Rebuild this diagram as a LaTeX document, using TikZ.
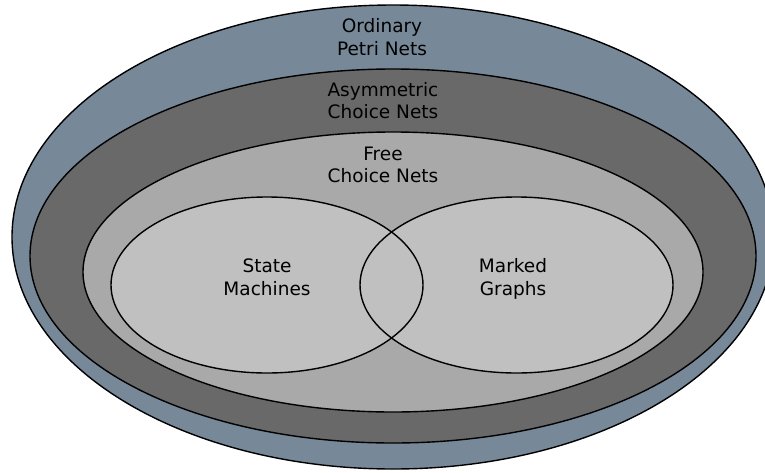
\documentclass[tikz,border=0pt]{standalone}
\usepackage{fontspec}
\setmainfont{DejaVu Sans}
\definecolor{outerc}{RGB}{119,136,153}
\definecolor{darkc}{RGB}{105,105,105}
\definecolor{freec}{RGB}{169,169,169}
\definecolor{innerc}{RGB}{192,192,192}
\begin{document}
\begin{tikzpicture}[x=1pt,y=-1pt,
  rim/.style={draw=black,line width=1.4pt},
  lbl/.style={align=center,font=\fontsize{18.5}{22.3}\selectfont,inner sep=0pt,anchor=base,text=black}]
\useasboundingbox (0,0) rectangle (765,472);
\clip (0,0) rectangle (765,472);
\fill[white] (0,0) rectangle (765,472);
\draw[rim,fill=outerc] (393,237) ellipse [x radius=381,y radius=232];
\draw[rim,fill=darkc] (393,256) ellipse [x radius=363,y radius=187];
\draw[rim,fill=freec] (393,272) ellipse [x radius=310,y radius=140];
\fill[innerc] (267,285) ellipse [x radius=156,y radius=88];
\fill[innerc] (516.5,285) ellipse [x radius=156.5,y radius=88];
\draw[rim] (267,285) ellipse [x radius=156,y radius=88];
\draw[rim] (516.5,285) ellipse [x radius=156.5,y radius=88];
\node[lbl] (ord) at (382,55) {Ordinary\\Petri Nets};
\node[lbl] (asym) at (383,118.8) {Asymmetric\\Choice Nets};
\node[lbl] (free) at (383,182.8) {Free\\Choice Nets};
\node[lbl] (sm) at (267,295) {State\\Machines};
\node[lbl] (mg) at (513,295) {Marked\\Graphs};
\end{tikzpicture}
\end{document}
